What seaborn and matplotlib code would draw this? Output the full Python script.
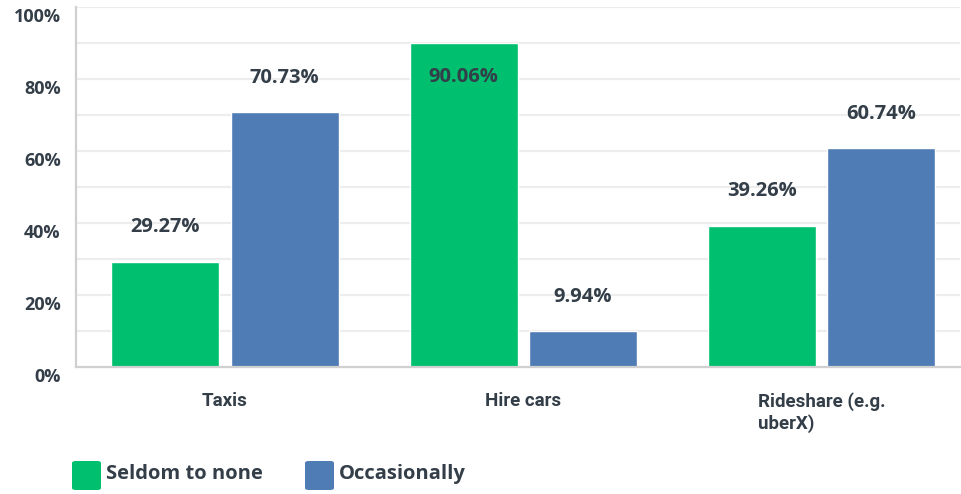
import matplotlib
matplotlib.use("Agg")
import matplotlib.pyplot as plt
import matplotlib.transforms as mtransforms
from matplotlib.patches import FancyBboxPatch
import seaborn as sns
import pandas as pd

categories = ["Taxis", "Hire cars", "Rideshare (e.g.\nuberX)"]
series_names = ["Seldom to none", "Occasionally"]
seldom = [29.27, 90.06, 39.26]
occasionally = [70.73, 9.94, 60.74]
y_ticks = [0, 20, 40, 60, 80, 100]
y_tick_labels = ["0%", "20%", "40%", "60%", "80%", "100%"]

colors = ["#00BF6F", "#507CB6"]
text_color = "#333E48"

sns.set_theme(style="white")
plt.rcParams["font.family"] = ["Open Sans", "DejaVu Sans"]

df = pd.DataFrame({
    "category": categories * 2,
    "series": [series_names[0]] * 3 + [series_names[1]] * 3,
    "value": seldom + occasionally,
})

fig = plt.figure(figsize=(9.61, 4.94), dpi=100)
ax = fig.add_axes([0.079, 0.257, 0.920, 0.729])

sns.barplot(data=df, x="category", y="value", hue="series", order=categories,
            hue_order=series_names, palette=colors, width=0.8, gap=0.095,
            saturation=1, legend=False, ax=ax, errorbar=None)

ax.set_ylim(0, 100)
ax.set_xlim(-0.5, 2.465)
ax.set_yticks(y_ticks)
ax.set_yticklabels(y_tick_labels)
ax.set_yticks(range(10, 100, 20), minor=True)
ax.yaxis.grid(True, which="both", color="#EDEDED", linewidth=1.6)
ax.set_axisbelow(True)
ax.set_xlabel("")
ax.set_ylabel("")

for side in ["top", "right"]:
    ax.spines[side].set_visible(False)
ax.spines["left"].set_color("#D0D0D0")
ax.spines["left"].set_linewidth(1.6)
ax.spines["bottom"].set_color("#D0D0D0")
ax.spines["bottom"].set_linewidth(1.6)

ax.tick_params(axis="y", which="both", length=0, pad=11, labelsize=13,
               labelcolor=text_color)
ax.tick_params(axis="x", length=0, pad=18, labelsize=13.5, labelcolor=text_color)
for lbl in ax.get_yticklabels():
    lbl.set_fontweight("bold")
    lbl.set_transform(lbl.get_transform() +
                      mtransforms.ScaledTranslation(0, -8 / 100, fig.dpi_scale_trans))
for lbl in ax.get_xticklabels():
    lbl.set_family(["Roboto", "DejaVu Sans"])
    lbl.set_fontweight("bold")
    lbl.set_multialignment("left")
    lbl.set_verticalalignment("top")
    lbl.set_linespacing(1.2)

# value labels above each bar (inside when the bar is nearly full height)
for container, vals in zip(ax.containers, [seldom, occasionally]):
    for bar, v in zip(container, vals):
        cx = bar.get_x() + bar.get_width() / 2
        offset = -25 if v > 85 else 25
        ax.annotate(f"{v:.2f}%", xy=(cx, v), xytext=(0, offset),
                    textcoords="offset points", ha="center", va="center",
                    fontsize=14.5, fontweight="bold", color=text_color)

# legend along the bottom
legend_items = [(72, series_names[0], colors[0]), (305, series_names[1], colors[1])]
for x0, name, col in legend_items:
    px0, py0 = x0 / 961, (494 - 490) / 494
    box = FancyBboxPatch((px0, py0), 29 / 961, 29 / 494,
                         boxstyle="round,pad=0,rounding_size=0.004",
                         transform=fig.transFigure, facecolor=col,
                         edgecolor="none")
    fig.patches.append(box)
    fig.text((x0 + 34) / 961, (494 - 474) / 494, name, ha="left", va="center",
             fontsize=14.5, fontweight="bold", color=text_color)

fig.savefig("out.png", dpi=100)
